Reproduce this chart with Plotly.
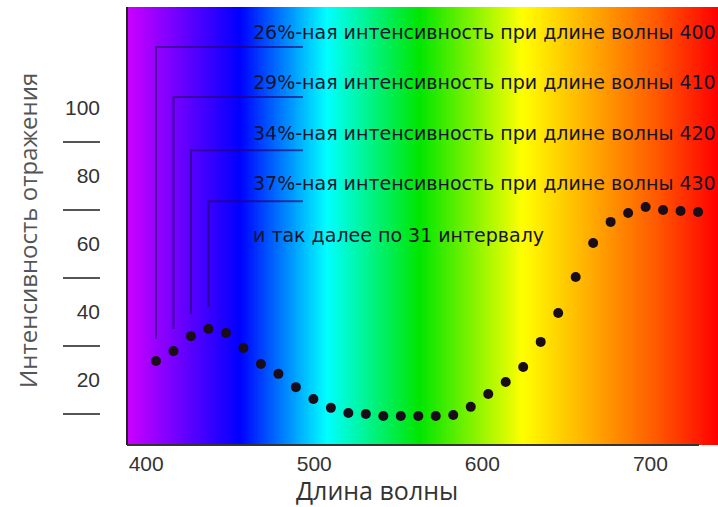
import numpy as np
import plotly.graph_objects as go

# ---------------- data ----------------
wavelength = [400, 410, 420, 430, 440, 450, 460, 470, 480, 490, 500, 510, 520, 530, 540, 550,
              560, 570, 580, 590, 600, 610, 620, 630, 640, 650, 660, 670, 680, 690, 700, 710]
intensity = [25.6, 28.5, 32.9, 35.0, 33.8, 29.4, 24.7, 21.8, 17.9, 14.4, 11.8, 10.3, 10.0, 9.4,
             9.4, 9.4, 9.4, 9.7, 12.1, 15.9, 19.4, 23.8, 31.2, 39.7, 50.3, 60.3, 66.5, 69.1,
             70.9, 70.0, 69.7, 69.4]
callout_texts = [
    "26%-ная интенсивность при длине волны 400",
    "29%-ная интенсивность при длине волны 410",
    "34%-ная интенсивность при длине волны 420",
    "37%-ная интенсивность при длине волны 430",
    "и так далее по 31 интервалу",
]
callout_wavelengths = [400, 410, 420, 430]
x_tick_vals = [400, 500, 600, 700]
y_tick_vals = [20, 40, 60, 80, 100]
y_dash_vals = [10, 30, 50, 70, 90]
x_title = "Длина волны"
y_title = "Интенсивность отражения"

# ---------------- layout constants ----------------
W, H = 718, 507
ML, MR, MT, MB = 20, 0, 7, 62
PW = W - ML - MR
PH = H - MT - MB
def px_x(p):  # pixel -> paper x
    return (p - ML) / PW
def px_y(p):  # pixel -> paper y
    return (H - MB - p) / PH

X_RANGE = [383.41, 721.4]
X2_RANGE = [388.6, 740.2]
Y_RANGE = [0.88, 129.7]

text_y = [122.4, 107.6, 92.6, 77.9, 62.6]
hline_y = [117.9, 103.2, 87.6, 72.6]
text_x = 454.5
hline_end = 484
gap = 6.5

# spectrum colorscale by wavelength
spec = [(383.41, "#cc00ff"), (448, "#0000ff"), (497.8, "#00ffff"), (551, "#00e600"),
        (609.9, "#ffff00"), (654, "#ffa000"), (688, "#ff5500"), (721.4, "#ff0000")]
span = X_RANGE[1] - X_RANGE[0]
colorscale = [[(w - X_RANGE[0]) / span, c] for w, c in spec]
colorscale[0][0] = 0.0
colorscale[-1][0] = 1.0

fig = go.Figure()

bg_x = np.linspace(X_RANGE[0], X_RANGE[1], 400)
fig.add_trace(go.Heatmap(x=bg_x, y=Y_RANGE, z=[bg_x, bg_x], colorscale=colorscale,
                         zmin=X_RANGE[0], zmax=X_RANGE[1], showscale=False,
                         hoverinfo="skip"))

# callout brackets
for wl, hy in zip(callout_wavelengths, hline_y):
    v = intensity[wavelength.index(wl)]
    fig.add_trace(go.Scatter(x=[wl, wl, hline_end], y=[v + gap, hy, hy], mode="lines",
                             line=dict(color="rgba(40,0,110,0.65)", width=2),
                             hoverinfo="skip", showlegend=False))

fig.add_trace(go.Scatter(x=wavelength, y=intensity, mode="markers",
                         marker=dict(size=10, color="#1a0d1a"), showlegend=False))

# invisible trace to carry the label axis
fig.add_trace(go.Scatter(x=x_tick_vals, y=[Y_RANGE[0]] * 4, xaxis="x2", mode="markers",
                         marker=dict(opacity=0), hoverinfo="skip", showlegend=False))

for t, ty in zip(callout_texts, text_y):
    fig.add_annotation(x=text_x, y=ty, xref="x", yref="y", text=t, showarrow=False,
                       xanchor="left", yanchor="middle",
                       font=dict(family="DejaVu Sans", size=19, color="#141430"))

fig.add_annotation(x=px_x(377), y=px_y(490), xref="paper", yref="paper", text=x_title,
                   showarrow=False, xanchor="center", yanchor="middle",
                   font=dict(family="Open Sans", size=25, color="#333"))
fig.add_annotation(x=px_x(27), y=px_y(231), xref="paper", yref="paper", text=y_title,
                   showarrow=False, xanchor="center", yanchor="middle", textangle=-90,
                   font=dict(family="Open Sans", size=24, color="#555"))

# frame lines
fig.add_shape(type="line", xref="paper", yref="paper", x0=px_x(127), x1=px_x(127),
              y0=0, y1=1, line=dict(color="#222", width=2))
fig.add_shape(type="line", xref="paper", yref="paper", x0=px_x(127), x1=px_x(699),
              y0=0, y1=0, line=dict(color="#333", width=2))

tick_font = dict(family="Liberation Sans", size=21, color="#333")
fig.update_layout(
    width=W, height=H, margin=dict(l=ML, r=MR, t=MT, b=MB),
    paper_bgcolor="white", plot_bgcolor="white", showlegend=False,
    xaxis=dict(domain=[px_x(127), 1], range=X_RANGE, showticklabels=False, ticks="",
               showgrid=False, zeroline=False, showline=False),
    xaxis2=dict(overlaying="x", anchor="y", side="bottom", range=X2_RANGE,
                tickvals=x_tick_vals, ticks="", showgrid=False, zeroline=False,
                showline=False, tickfont=tick_font, ticklabelstandoff=4),
    yaxis=dict(anchor="free", position=px_x(100), range=Y_RANGE, tickvals=y_tick_vals,
               ticks="", showgrid=False, zeroline=False, showline=False,
               tickfont=tick_font,
               minor=dict(tickvals=y_dash_vals, ticks="outside", ticklen=37,
                          tickwidth=2, tickcolor="#555")),
)

fig.write_html("out.html", config={"displayModeBar": False},
               post_script="document.body.style.margin='0';document.body.style.overflow='hidden';")
